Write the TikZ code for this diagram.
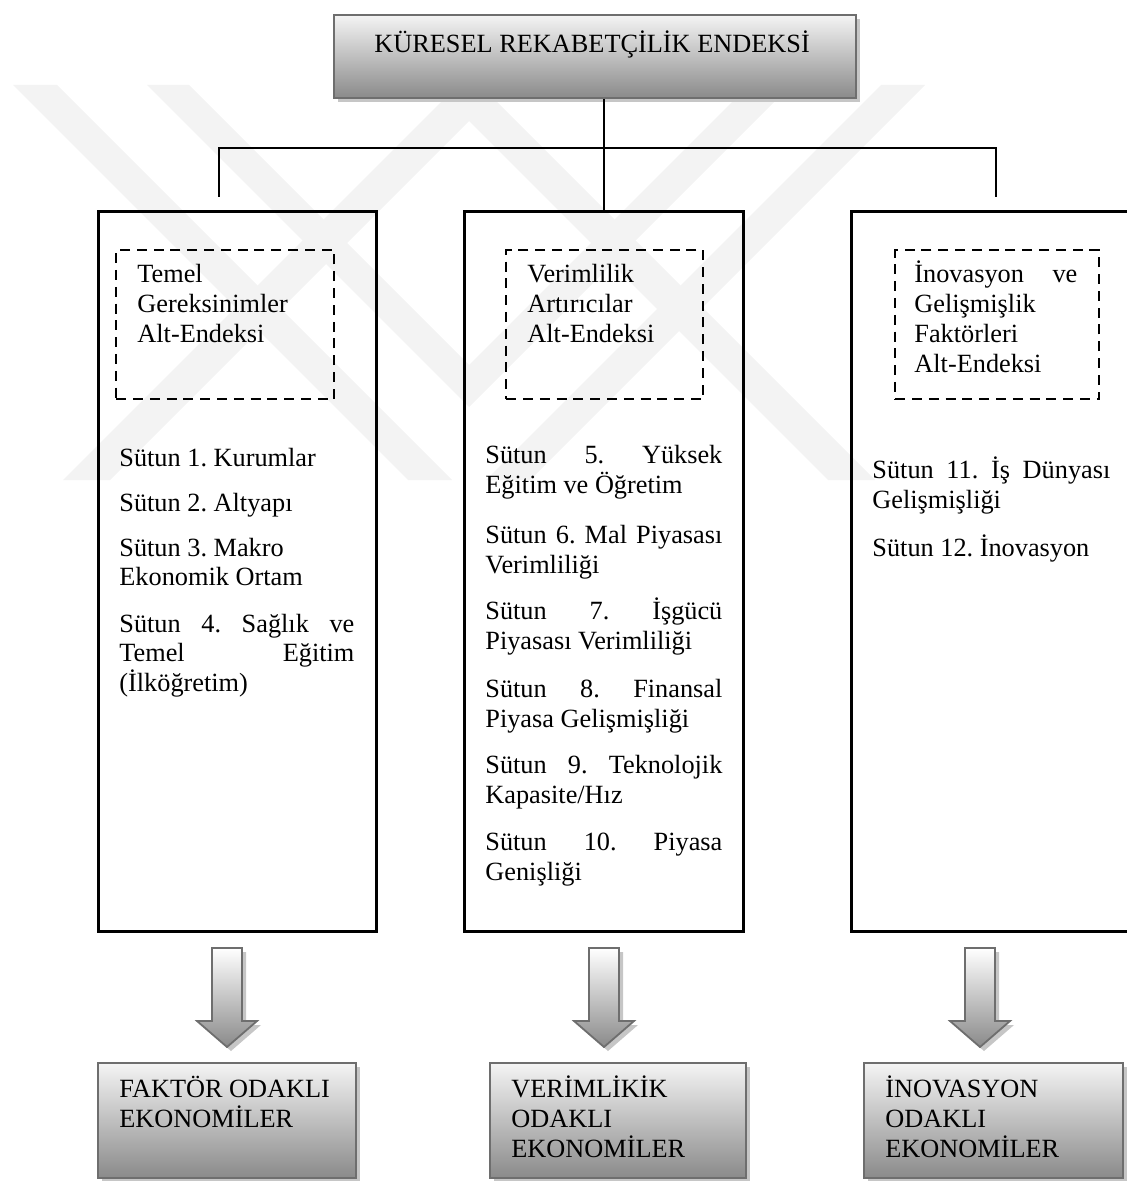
\documentclass[tikz,border=0pt]{standalone}
\usepackage{fontspec}
\setmainfont{Liberation Serif}
\usetikzlibrary{shadows}
\definecolor{frame}{HTML}{6E6E6E}
\definecolor{shadetop}{HTML}{F4F4F4}
\definecolor{shadebot}{HTML}{8A8A8A}
\definecolor{shadowgray}{HTML}{C6C6C6}
\definecolor{mark}{HTML}{F3F3F3}
\begin{document}
\frenchspacing
\begin{tikzpicture}[x=0.5pt,y=-0.5pt,
  every node/.style={font=\fontsize{13.15pt}{15pt}\selectfont},
  headbox/.style={draw=frame, line width=1pt, top color=shadetop, bottom color=shadebot,
    anchor=north west, inner sep=0pt,
    general shadow={fill=shadowgray, shadow xshift=2pt, shadow yshift=-2pt}},
  column/.style={draw=black, line width=1.4pt, anchor=north west, inner sep=0pt},
  group/.style={draw=black, line width=1.2pt, dash pattern=on 5pt off 3.4pt,
    anchor=north west, inner sep=0pt},
  txt/.style={anchor=base west, inner sep=0pt},
  link/.style={draw=black, line width=1pt},
  blockarrow/.style={draw=frame, line width=0.9pt, top color=white, bottom color=shadebot},
  band/.style={fill=mark, draw=none}
]
\useasboundingbox (0,0) rectangle (1127,1181);
\clip (0,0) rectangle (1127,1181);

% background emblem: two chevrons and a roof, mirrored about x = 469
\begin{scope}
  \clip (0,85) rectangle (469,480);
  \fill[band] (13,85) -- (57,85) -- (452,480) -- (408,480) -- cycle;
  \fill[band] (147,85) -- (189,85) -- (584,480) -- (542,480) -- cycle;
  \fill[band] (458,85) -- (505,85) -- (110,480) -- (63,480) -- cycle;
\end{scope}
\begin{scope}
  \clip (469,85) rectangle (938,480);
  \fill[band] (925,85) -- (881,85) -- (486,480) -- (530,480) -- cycle;
  \fill[band] (791,85) -- (749,85) -- (354,480) -- (396,480) -- cycle;
  \fill[band] (480,85) -- (433,85) -- (828,480) -- (875,480) -- cycle;
\end{scope}

% index header
\node[headbox, minimum width=261pt, minimum height=41.5pt] (kri) at (333,14) {};
\node[txt] (krit) at (374,53) {KÜRESEL REKABETÇİLİK ENDEKSİ};

% three sub-index columns
\node[column, minimum width=139pt, minimum height=360pt] (colA) at (97,210) {};
\node[column, minimum width=139.5pt, minimum height=360pt] (colB) at (463,210) {};
\node[column, minimum width=150pt, minimum height=360pt] (colC) at (850,210) {};

% connectors from the header to the columns
\coordinate (busL) at (219,148);
\coordinate (busR) at (996,148);
\coordinate (dropL) at (219,197);
\coordinate (dropR) at (996,197);
\draw[link] (kri.south -| colB.north) -- (colB.north);
\draw[link] (dropL) -- (busL) -- (busR) -- (dropR);

% dashed sub-index titles
\node[group, minimum width=109pt, minimum height=74.5pt] (gA) at (115,249) {};
\node[group, minimum width=98.5pt, minimum height=74.5pt] (gB) at (505,249) {};
\node[group, minimum width=102pt, minimum height=74.5pt] (gC) at (894,249) {};

\node[txt] (gA1) at (137,283) {Temel};
\node[txt] (gA2) at (137,313) {Gereksinimler};
\node[txt] (gA3) at (137,343) {Alt-Endeksi};

\node[txt] (gB1) at (527,283) {Verimlilik};
\node[txt] (gB2) at (527,313) {Artırıcılar};
\node[txt] (gB3) at (527,343) {Alt-Endeksi};

\node[txt] (gC1) at (914,283) {\makebox[81.5pt][s]{İnovasyon ve}};
\node[txt] (gC2) at (914,313) {Gelişmişlik};
\node[txt] (gC3) at (914,343) {Faktörleri};
\node[txt] (gC4) at (914,373) {Alt-Endeksi};

% pillars, first column
\node[txt] (a1) at (119,466) {Sütun 1. Kurumlar};
\node[txt] (a2) at (119,511) {Sütun 2. Altyapı};
\node[txt] (a3) at (119,556) {Sütun 3. Makro};
\node[txt] (a4) at (119,585) {Ekonomik Ortam};
\node[txt] (a5) at (119,632) {\makebox[117.5pt][s]{Sütun 4. Sağlık ve}};
\node[txt] (a6) at (119,661) {\makebox[117.5pt][s]{Temel Eğitim}};
\node[txt] (a7) at (119,691) {(İlköğretim)};

% pillars, second column
\node[txt] (b1) at (485,463) {\makebox[118.5pt][s]{Sütun 5. Yüksek}};
\node[txt] (b2) at (485,493) {Eğitim ve Öğretim};
\node[txt] (b3) at (485,543) {\makebox[118.5pt][s]{Sütun 6. Mal Piyasası}};
\node[txt] (b4) at (485,573) {Verimliliği};
\node[txt] (b5) at (485,619) {\makebox[118.5pt][s]{Sütun 7. İşgücü}};
\node[txt] (b6) at (485,649) {Piyasası Verimliliği};
\node[txt] (b7) at (485,697) {\makebox[118.5pt][s]{Sütun 8. Finansal}};
\node[txt] (b8) at (485,727) {Piyasa Gelişmişliği};
\node[txt] (b9) at (485,773) {\makebox[118.5pt][s]{Sütun 9. Teknolojik}};
\node[txt] (b10) at (485,803) {Kapasite/Hız};
\node[txt] (b11) at (485,850) {\makebox[118.5pt][s]{Sütun 10. Piyasa}};
\node[txt] (b12) at (485,880) {Genişliği};

% pillars, third column
\node[txt] (c1) at (872,478) {\makebox[119pt][s]{Sütun 11. İş Dünyası}};
\node[txt] (c2) at (872,508) {Gelişmişliği};
\node[txt] (c3) at (872,556) {Sütun 12. İnovasyon};

% block arrows towards the economy types
\foreach \cx/\nm in {227/arA, 604/arB, 980/arC}{
  \fill[shadowgray] (\cx-11,952) -- (\cx+19,952) -- (\cx+19,1025) -- (\cx+34,1025)
    -- (\cx+4,1051) -- (\cx-26,1025) -- (\cx-11,1025) -- cycle;
  \path[blockarrow] (\cx-15,948) -- (\cx+15,948) -- (\cx+15,1021) -- (\cx+30,1021)
    -- (\cx,1047) -- (\cx-30,1021) -- (\cx-15,1021) -- cycle;
  \coordinate (\nm) at (\cx,1047);
}

% economy types
\node[headbox, minimum width=129pt, minimum height=57.5pt] (ecA) at (97,1062) {};
\node[headbox, minimum width=128pt, minimum height=57.5pt] (ecB) at (489,1062) {};
\node[headbox, minimum width=129.5pt, minimum height=57.5pt] (ecC) at (863,1062) {};

\node[txt] (ecA1) at (119,1097) {FAKTÖR ODAKLI};
\node[txt] (ecA2) at (119,1127) {EKONOMİLER};

\node[txt] (ecB1) at (511,1097) {VERİMLİKİK};
\node[txt] (ecB2) at (511,1127) {ODAKLI};
\node[txt] (ecB3) at (511,1157) {EKONOMİLER};

\node[txt] (ecC1) at (885,1097) {İNOVASYON};
\node[txt] (ecC2) at (885,1127) {ODAKLI};
\node[txt] (ecC3) at (885,1157) {EKONOMİLER};
\end{tikzpicture}
\end{document}
